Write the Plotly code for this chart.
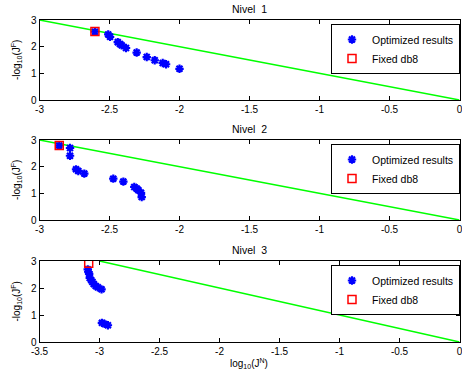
import plotly.graph_objects as go

# ---- data ----
opt1_x = [-2.604, -2.509, -2.496, -2.441, -2.425, -2.413, -2.382, -2.306, -2.234, -2.177, -2.120, -2.096, -2.000]
opt1_y = [2.56, 2.46, 2.37, 2.17, 2.10, 2.05, 1.95, 1.78, 1.61, 1.49, 1.39, 1.34, 1.17]
fix1_x = [-2.604]
fix1_y = [2.57]

opt2_x = [-2.859, -2.782, -2.782, -2.739, -2.723, -2.680, -2.473, -2.401, -2.323, -2.306, -2.294, -2.275, -2.270]
opt2_y = [2.79, 2.70, 2.41, 1.90, 1.84, 1.74, 1.55, 1.44, 1.24, 1.18, 1.12, 1.02, 0.86]
fix2_x = [-2.859]
fix2_y = [2.79]

opt3_x = [-3.098, -3.092, -3.086, -3.081, -3.070, -3.059, -3.048, -3.031, -3.014, -2.983, -2.980, -2.958, -2.930]
opt3_y = [2.69, 2.59, 2.52, 2.37, 2.30, 2.22, 2.15, 2.07, 2.03, 1.95, 0.71, 0.67, 0.62]
fix3_x = [-3.09]
fix3_y = [2.92]

ref_x = [-3, 0]
ref_y = [3, 0]

xt12 = [-3, -2.5, -2, -1.5, -1, -0.5, 0]
xt12_txt = ["-3", "-2.5", "-2", "-1.5", "-1", "-0.5", "0"]
xt3 = [-3.5, -3, -2.5, -2, -1.5, -1, -0.5, 0]
xt3_txt = ["-3.5", "-3", "-2.5", "-2", "-1.5", "-1", "-0.5", "0"]
yt = [0, 1, 2, 3]
yt_txt = ["0", "1", "2", "3"]
titles = ["Nivel  1", "Nivel  2", "Nivel  3"]
leg_names = ["Optimized results", "Fixed db8"]

FONT = "Liberation Sans, Arial, Helvetica, sans-serif"
W, H = 462, 378

panels = [
    (opt1_x, opt1_y, fix1_x, fix1_y, xt12, xt12_txt, [-3, 0], (20, 100)),
    (opt2_x, opt2_y, fix2_x, fix2_y, xt12, xt12_txt, [-3, 0], (140, 220)),
    (opt3_x, opt3_y, fix3_x, fix3_y, xt3, xt3_txt, [-3.5, 0], (261, 342)),
]

fig = go.Figure()
x0p, x1p = 39.5, 459.5
layout = dict(
    template="none",
    width=W, height=H, autosize=False,
    margin=dict(l=0, r=0, t=0, b=0, pad=0),
    paper_bgcolor="white", plot_bgcolor="white",
    font=dict(family=FONT, size=10, color="black"),
    annotations=[],
)

for i, (ox, oy, fx, fy, tv, tt, xr, (top, bot)) in enumerate(panels):
    n = "" if i == 0 else str(i + 1)
    xa, ya = "x" + n, "y" + n
    lg = "legend" + n
    fig.add_trace(go.Scatter(x=ref_x, y=ref_y, mode="lines", line=dict(color="#00ff00", width=1.5),
                             showlegend=False, xaxis=xa, yaxis=ya, hoverinfo="skip"))
    fig.add_trace(go.Scatter(x=ox, y=oy, mode="markers", name=leg_names[0],
                             marker=dict(symbol="asterisk-open", size=7, color="blue",
                                         line=dict(color="blue", width=2.2)),
                             xaxis=xa, yaxis=ya, legend=lg))
    fig.add_trace(go.Scatter(x=fx, y=fy, mode="markers", name=leg_names[1],
                             marker=dict(symbol="square-open", size=8, color="red",
                                         line=dict(color="red", width=1.5)),
                             xaxis=xa, yaxis=ya, legend=lg))
    dom_y = [1 - bot / H, 1 - top / H]
    axcommon = dict(showgrid=False, zeroline=False, showline=True, linecolor="black", linewidth=1,
                    mirror="ticks", ticks="inside", ticklen=4, tickcolor="black", automargin=False,
                    ticklabeloverflow="allow",
                    tickfont=dict(family=FONT, size=10, color="black"))
    layout["xaxis" + n] = dict(axcommon, domain=[x0p / W, x1p / W], range=xr, tickvals=tv, ticktext=tt,
                               anchor=ya)
    layout["yaxis" + n] = dict(axcommon, domain=dom_y, range=[0, 3], tickvals=yt, ticktext=yt_txt,
                               anchor=xa)
    layout[lg] = dict(x=331 / W, y=1 - (top + 4) / H, xanchor="left", yanchor="top",
                      bgcolor="white", bordercolor="black", borderwidth=1,
                      font=dict(family=FONT, size=10.5, color="black"),
                      tracegroupgap=0, itemwidth=30)
    layout["annotations"].append(dict(text=titles[i], x=(x0p + x1p) / 2 / W, y=1 - (top - 11) / H,
                                      xref="paper", yref="paper", showarrow=False,
                                      xanchor="center", yanchor="middle",
                                      font=dict(family=FONT, size=10.5, color="black")))
    layout["annotations"].append(dict(text="-log<sub>10</sub>(J<sup>F</sup>)", x=16 / W,
                                      y=1 - (top + bot) / 2 / H, xref="paper", yref="paper",
                                      xanchor="center", yanchor="middle",
                                      showarrow=False, textangle=-90,
                                      font=dict(family=FONT, size=10, color="black")))

layout["annotations"].append(dict(text="log<sub>10</sub>(J<sup>N</sup>)", x=(x0p + x1p) / 2 / W,
                                  y=1 - 355 / H, xref="paper", yref="paper", showarrow=False,
                                  xanchor="center", yanchor="top",
                                  font=dict(family=FONT, size=10, color="black")))

fig.update_layout(**layout)
fig.write_html("out.html", config={"displayModeBar": False},
               post_script="document.body.style.margin='0';document.body.style.padding='0';"
                           "document.body.style.overflow='hidden';")
